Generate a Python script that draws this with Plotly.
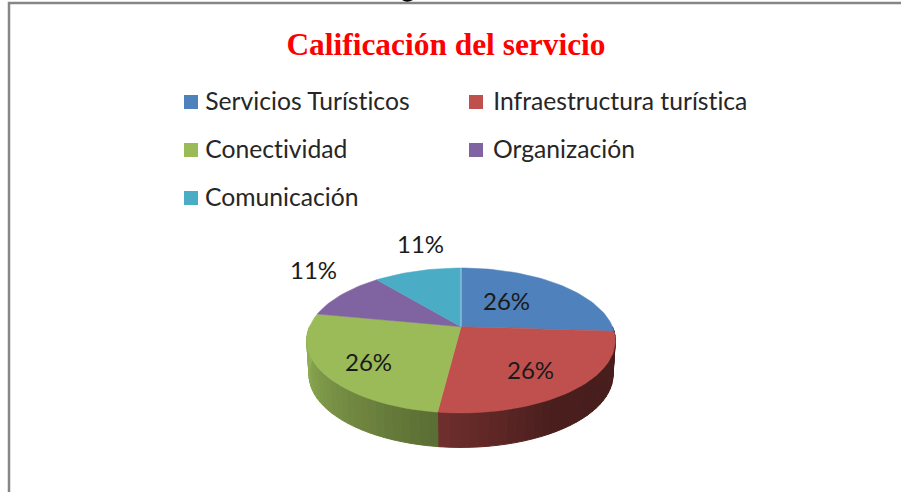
import math
import plotly.graph_objects as go

# ---- data ----
categories = ["Servicios Turísticos", "Infraestructura turística", "Conectividad", "Organización", "Comunicación"]
values = [26, 26, 26, 11, 11]
colors = ["#4F81BD", "#C0504D", "#9BBB59", "#8064A2", "#4BACC6"]
label_x = [506, 530, 368, 313, 420]
label_y = [300.5, 369.5, 361.5, 269.5, 243.5]
legend_x = [184, 469, 184, 469, 184]
legend_text_x = [202.5, 491, 202.5, 491, 202.5]
legend_y = [102, 102, 150, 150, 198]

# ---- projection of the tilted pie (pixels) ----
CX, CY = 461.0, 326.7
A, B, Q = 151.5, 69.85, 0.19
DEPTH = 34.5
BOTTOM_SCALE = 0.985
W, H = 901, 492
LABEL_FONT = "Lato"


def top_point(theta):
    t = math.radians(theta)
    u, v = math.sin(t), math.cos(t)
    w = 1 + Q * v
    return CX + A * u / w, CY - B * v / w


def bottom_point(theta):
    x, y = top_point(theta)
    return CX + (x - CX) * BOTTOM_SCALE, y + DEPTH


def shade(theta):
    stops = [(90, 0.37), (150, 0.38), (187, 0.58), (259, 0.92), (280, 0.95)]
    for (a, fa), (b, fb) in zip(stops, stops[1:]):
        if a <= theta <= b:
            return fa + (fb - fa) * (theta - a) / (b - a)
    return 0.9


def scaled(hex_color, f):
    r, g, b = (int(hex_color[i:i + 2], 16) for i in (1, 3, 5))
    return f"rgb({round(r * f)},{round(g * f)},{round(b * f)})"


total = sum(values)
edges = [0.0]
for val in values:
    edges.append(edges[-1] + 360.0 * val / total)

fig = go.Figure()

# side walls
STEP = 3.0
for i, col in enumerate(colors):
    start, end = edges[i], edges[i + 1]
    t = max(start, 90.0)
    stop = min(end, 270.0)
    while t < stop:
        t2 = min(t + STEP, stop)
        xs, ys = [], []
        for a in (t, t2):
            p = top_point(a)
            xs.append(p[0]); ys.append(p[1])
        for a in (t2, t):
            p = bottom_point(a)
            xs.append(p[0]); ys.append(p[1])
        c = scaled(col, shade((t + t2) / 2))
        fig.add_trace(go.Scatter(x=xs + xs[:1], y=ys + ys[:1], mode="lines", fill="toself",
                                 fillcolor=c, line=dict(color=c, width=1),
                                 hoverinfo="skip", showlegend=False))
        t = t2

# top faces
for i, col in enumerate(colors):
    n = max(2, int((edges[i + 1] - edges[i]) / 2))
    pts = [top_point(edges[i] + (edges[i + 1] - edges[i]) * k / n) for k in range(n + 1)]
    xs = [CX] + [p[0] for p in pts] + [CX]
    ys = [CY] + [p[1] for p in pts] + [CY]
    fig.add_trace(go.Scatter(x=xs, y=ys, mode="lines", fill="toself", fillcolor=col,
                             line=dict(color=col, width=0.5), name=categories[i],
                             hoverinfo="skip", showlegend=False))

# light seam at twelve o'clock
sx, sy = top_point(0)
fig.add_trace(go.Scatter(x=[CX, sx], y=[CY, sy], mode="lines",
                         line=dict(color="#A9CBDC", width=1),
                         hoverinfo="skip", showlegend=False))

# legend keys
fig.add_trace(go.Scatter(x=[x + 7 for x in legend_x], y=legend_y, mode="markers",
                         marker=dict(symbol="square", size=14, color=colors),
                         hoverinfo="skip", showlegend=False))

annotations = []
for name, x, y in zip(categories, legend_text_x, legend_y):
    annotations.append(dict(x=x, y=y - 1.5, text=name, showarrow=False, xanchor="left", yanchor="middle",
                            font=dict(family=LABEL_FONT, size=24.7, color="#262626")))
for val, x, y in zip(values, label_x, label_y):
    annotations.append(dict(x=x, y=y, text=f"{val}%", showarrow=False, xanchor="center", yanchor="middle",
                            font=dict(family=LABEL_FONT, size=24, color="#1a1a1a")))

fig.update_layout(
    width=W, height=H, margin=dict(l=0, r=0, t=0, b=0),
    paper_bgcolor="white", plot_bgcolor="white", showlegend=False,
    title=dict(text="<b>Calificación del servicio</b>", x=446 / W, y=1 - 44.5 / H,
               xanchor="center", yanchor="middle",
               font=dict(family="Liberation Serif", size=31.4, color="#FF0000")),
    xaxis=dict(range=[0, W], visible=False, fixedrange=True),
    yaxis=dict(range=[H, 0], visible=False, fixedrange=True),
    annotations=annotations,
    shapes=[dict(type="rect", xref="x", yref="y", x0=9, y0=3, x1=W + 20, y1=H + 20,
                 line=dict(color="#868686", width=2.5), fillcolor="rgba(0,0,0,0)", layer="below"),
            # stray ink at the top edge, left over from a heading cropped out of the source
            dict(type="path", xref="x", yref="y", path="M 402 0 Q 407 3.5 413 0 Z",
                 line=dict(width=0), fillcolor="#000000")],
)
fig.write_html("out.html", config={"displayModeBar": False},
               post_script="document.body.style.margin='0';document.body.style.overflow='hidden';"
                           "var s=document.createElement('style');"
                           "s.textContent='text{font-variant-ligatures:none;font-feature-settings:\"liga\" 0,\"dlig\" 0}';"
                           "document.head.appendChild(s);")
